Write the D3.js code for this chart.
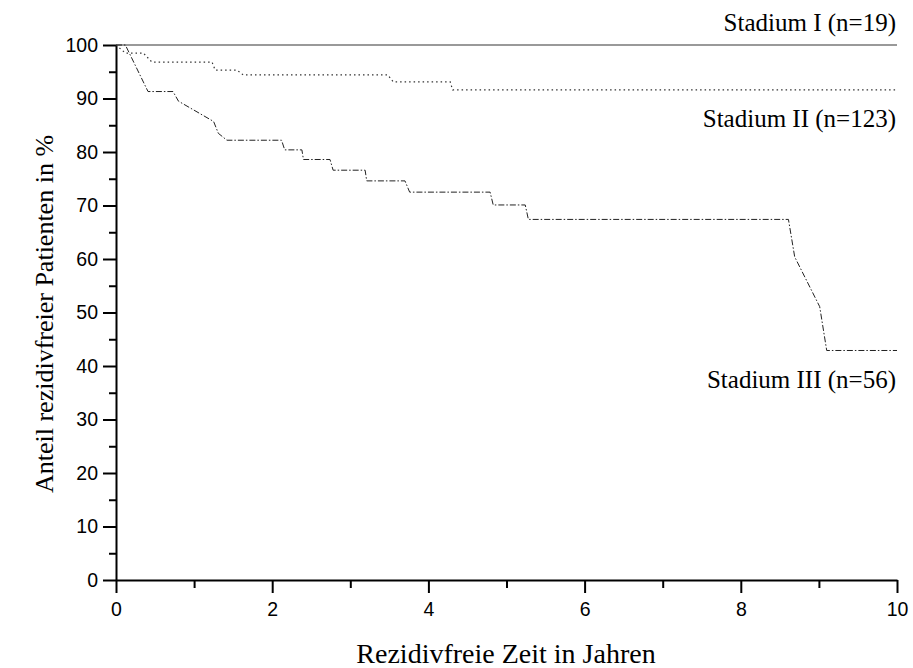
<!DOCTYPE html>
<meta charset="utf-8">
<style>
body { margin: 0; background: #fff; }
.tick text { font-family: "Liberation Sans", Arial, sans-serif; font-size: 19.5px; fill: #000; }
.axis path, .axis line { stroke: #000; }
.title { font-family: "Liberation Serif", "Times New Roman", serif; fill: #000; }
.lab { font-family: "Liberation Serif", "Times New Roman", serif; font-size: 25px; fill: #000; }
</style>
<svg width="913" height="668"></svg>
<script src="https://d3js.org/d3.v7.min.js"></script>
<script>

var xTicks = [0, 2, 4, 6, 8, 10];
var yTicks = [0, 10, 20, 30, 40, 50, 60, 70, 80, 90, 100];

// Stadium I (n=19): no relapse
var s1Time = [0, 10];
var s1Val = [100, 100];

// Stadium II (n=123)
var s2Time = [0, 0.12, 0.35, 0.46, 1.23, 1.27, 1.55, 1.63, 3.48, 3.55, 4.28, 4.31, 10];
var s2Val = [100, 98.5, 98.5, 96.8, 96.8, 95.3, 95.3, 94.4, 94.4, 93.1, 93.1, 91.6, 91.6];

// Stadium III (n=56)
var s3Time = [0, 0.12, 0.41, 0.73, 0.8, 1.25, 1.31, 1.42, 2.12, 2.16, 2.38, 2.4, 2.74, 2.78, 3.19, 3.21, 3.7, 3.76, 4.79, 4.83, 5.24, 5.28, 8.61, 8.69, 9.01, 9.1, 10];
var s3Val = [100, 100, 91.3, 91.3, 89.5, 85.7, 83.5, 82.2, 82.2, 80.4, 80.4, 78.6, 78.6, 76.6, 76.6, 74.6, 74.6, 72.5, 72.5, 70.1, 70.1, 67.4, 67.4, 60.4, 51.1, 42.9, 42.9];

var labels = ["Stadium I (n=19)", "Stadium II (n=123)", "Stadium III (n=56)"];

var svg = d3.select("svg");

var x = d3.scaleLinear().domain([0, 10]).range([116, 897]);
var y = d3.scaleLinear().domain([0, 100]).range([580, 45]);

// minor ticks
svg.append("g").attr("class", "axis")
    .attr("transform", "translate(0,580)")
    .call(d3.axisBottom(x).tickValues(d3.range(1, 10, 2)).tickSize(8).tickFormat(""))
    .call(function (g) { g.select(".domain").remove(); });
svg.append("g").attr("class", "axis")
    .attr("transform", "translate(116,0)")
    .call(d3.axisLeft(y).tickValues(d3.range(5, 100, 10)).tickSize(7).tickFormat(""))
    .call(function (g) { g.select(".domain").remove(); });

svg.append("g").attr("class", "axis")
    .attr("transform", "translate(0,580)")
    .call(d3.axisBottom(x).tickValues(xTicks).tickSize(13).tickSizeOuter(0).tickPadding(9));
svg.append("g").attr("class", "axis")
    .attr("transform", "translate(116,0)")
    .call(d3.axisLeft(y).tickValues(yTicks).tickSize(13).tickSizeOuter(0).tickPadding(5));

svg.selectAll(".axis .domain").attr("stroke-width", 2);
svg.selectAll(".axis .tick line").attr("stroke-width", 2);

var line = d3.line()
    .x(function (d) { return x(d[0]); })
    .y(function (d) { return y(d[1]); });

svg.append("path")
    .attr("d", line(d3.zip(s1Time, s1Val)))
    .attr("fill", "none").attr("stroke", "#777").attr("stroke-width", 1.5);

svg.append("path")
    .attr("d", line(d3.zip(s2Time, s2Val)))
    .attr("fill", "none").attr("stroke", "#333").attr("stroke-width", 1.2)
    .attr("stroke-dasharray", "1.5,3");

svg.append("path")
    .attr("d", line(d3.zip(s3Time, s3Val)))
    .attr("fill", "none").attr("stroke", "#222").attr("stroke-width", 1)
    .attr("stroke-dasharray", "6,2,1.5,2");

var labY = [31, 127, 388];
svg.selectAll(".lab").data(labels).enter().append("text")
    .attr("class", "lab")
    .attr("x", 896)
    .attr("y", function (d, i) { return labY[i]; })
    .attr("text-anchor", "end")
    .text(function (d) { return d; });

svg.append("text").attr("class", "title")
    .attr("x", 506).attr("y", 663)
    .attr("text-anchor", "middle")
    .style("font-size", "28px")
    .text("Rezidivfreie Zeit in Jahren");

svg.append("text").attr("class", "title")
    .attr("transform", "translate(53,314) rotate(-90)")
    .attr("text-anchor", "middle")
    .style("font-size", "26px")
    .text("Anteil rezidivfreier Patienten in %");

</script>
